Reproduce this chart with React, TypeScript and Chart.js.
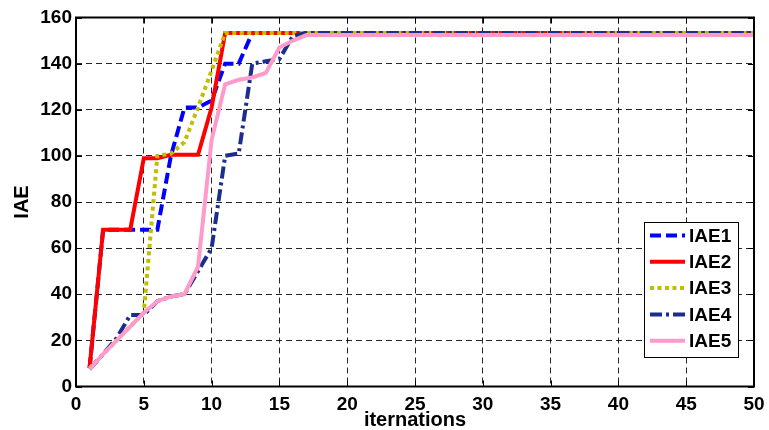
import { useEffect, useRef } from "react";
import { Chart, registerables } from "chart.js";

Chart.register(...registerables);

// Iteration index (x axis)
const iterations = [
  1, 2, 3, 4, 5, 6, 7, 8, 9, 10,
  11, 12, 13, 14, 15, 16, 17, 18, 19, 20,
  21, 22, 23, 24, 25, 26, 27, 28, 29, 30,
  31, 32, 33, 34, 35, 36, 37, 38, 39, 40,
  41, 42, 43, 44, 45, 46, 47, 48, 49, 50,
];

// IAE value per iteration for each run
const iae1 = [
  8, 68, 68, 68, 68, 68, 100, 121, 121, 124,
  140, 140, 153.3, 153.3, 153.3, 153.3, 153.3, 153.3, 153.3, 153.3,
  153.3, 153.3, 153.3, 153.3, 153.3, 153.3, 153.3, 153.3, 153.3, 153.3,
  153.3, 153.3, 153.3, 153.3, 153.3, 153.3, 153.3, 153.3, 153.3, 153.3,
  153.3, 153.3, 153.3, 153.3, 153.3, 153.3, 153.3, 153.3, 153.3, 153.3,
];
const iae2 = [
  8, 68, 68, 68, 99, 99, 100.5, 100.5, 100.5, 121,
  153.3, 153.3, 153.3, 153.3, 153.3, 153.3, 153.3, 153.3, 153.3, 153.3,
  153.3, 153.3, 153.3, 153.3, 153.3, 153.3, 153.3, 153.3, 153.3, 153.3,
  153.3, 153.3, 153.3, 153.3, 153.3, 153.3, 153.3, 153.3, 153.3, 153.3,
  153.3, 153.3, 153.3, 153.3, 153.3, 153.3, 153.3, 153.3, 153.3, 153.3,
];
const iae3 = [
  8, 14, 20, 26, 32, 100, 101, 106, 121, 137,
  153.3, 153.3, 153.3, 153.3, 153.3, 153.3, 153.3, 153.3, 153.3, 153.3,
  153.3, 153.3, 153.3, 153.3, 153.3, 153.3, 153.3, 153.3, 153.3, 153.3,
  153.3, 153.3, 153.3, 153.3, 153.3, 153.3, 153.3, 153.3, 153.3, 153.3,
  153.3, 153.3, 153.3, 153.3, 153.3, 153.3, 153.3, 153.3, 153.3, 153.3,
];
const iae4 = [
  7.5, 14, 21, 31, 31, 37, 39, 40, 50, 60,
  100, 101, 140, 141, 142, 152, 153.3, 153.3, 153.3, 153.3,
  153.3, 153.3, 153.3, 153.3, 153.3, 153.3, 153.3, 153.3, 153.3, 153.3,
  153.3, 153.3, 153.3, 153.3, 153.3, 153.3, 153.3, 153.3, 153.3, 153.3,
  153.3, 153.3, 153.3, 153.3, 153.3, 153.3, 153.3, 153.3, 153.3, 153.3,
];
const iae5 = [
  7.5, 14, 20, 26, 32, 37, 39, 40, 52, 107,
  131, 133, 134, 136, 147, 150, 152.4, 152.4, 152.4, 152.4,
  152.4, 152.4, 152.4, 152.4, 152.4, 152.4, 152.4, 152.4, 152.4, 152.4,
  152.4, 152.4, 152.4, 152.4, 152.4, 152.4, 152.4, 152.4, 152.4, 152.4,
  152.4, 152.4, 152.4, 152.4, 152.4, 152.4, 152.4, 152.4, 152.4, 152.4,
];

const seriesNames = ["IAE1", "IAE2", "IAE3", "IAE4", "IAE5"];
const seriesValues = [iae1, iae2, iae3, iae4, iae5];
const seriesColors = ["#0000FF", "#FF0000", "#BFBF00", "#1B2E8E", "#FF9BCB"];
const seriesDashes: number[][] = [[11, 5], [], [4, 3.5], [12, 4, 3, 4], []];

const xMin = 0;
const xMax = 50;
const xStep = 5;
const yMin = 0;
const yMax = 160;
const yStep = 20;

const FONT = "'Liberation Sans', Arial, Helvetica, sans-serif";
const LINE_W = 4;

// Box around the plot area with inward-pointing tick marks on all four sides
const framePlugin = {
  id: "frame",
  afterDatasetsDraw(chart: any) {
    const { ctx, chartArea } = chart;
    const { left, right, top, bottom } = chartArea;
    const tickLen = 6;
    ctx.save();
    ctx.strokeStyle = "#000";
    ctx.lineWidth = 1;
    ctx.setLineDash([]);
    const xs = chart.scales.x;
    const ys = chart.scales.y;
    ctx.beginPath();
    xs.ticks.forEach((t: any) => {
      const px = Math.round(xs.getPixelForValue(t.value)) + 0.5;
      ctx.moveTo(px, bottom);
      ctx.lineTo(px, bottom - tickLen);
      ctx.moveTo(px, top);
      ctx.lineTo(px, top + tickLen);
    });
    ys.ticks.forEach((t: any) => {
      const py = Math.round(ys.getPixelForValue(t.value)) + 0.5;
      ctx.moveTo(left, py);
      ctx.lineTo(left + tickLen, py);
      ctx.moveTo(right, py);
      ctx.lineTo(right - tickLen, py);
    });
    ctx.stroke();
    ctx.lineWidth = 2;
    ctx.strokeRect(left, top, right - left, bottom - top);
    ctx.restore();
  },
};

// Boxed legend in the lower-right corner of the plot
const legendPlugin = {
  id: "boxLegend",
  afterDraw(chart: any) {
    const { ctx, chartArea } = chart;
    const bw = 94;
    const bh = 135;
    const bx = chartArea.right - 16 - bw;
    const by = chartArea.bottom - 29.5 - bh;
    ctx.save();
    ctx.fillStyle = "#fff";
    ctx.fillRect(bx, by, bw, bh);
    ctx.strokeStyle = "#000";
    ctx.lineWidth = 1;
    ctx.setLineDash([]);
    ctx.strokeRect(bx + 0.5, by + 0.5, bw, bh);
    ctx.font = `bold 19px ${FONT}`;
    ctx.textBaseline = "middle";
    ctx.textAlign = "left";
    chart.data.datasets.forEach((ds: any, i: number) => {
      const cy = by + 13.5 + i * 26.3;
      ctx.beginPath();
      ctx.strokeStyle = ds.borderColor;
      ctx.lineWidth = LINE_W;
      ctx.lineCap = "butt";
      ctx.setLineDash(ds.borderDash || []);
      ctx.moveTo(bx + 6, cy);
      ctx.lineTo(bx + 41, cy);
      ctx.stroke();
      ctx.setLineDash([]);
      ctx.fillStyle = "#000";
      ctx.fillText(ds.label, bx + 45, cy + 1);
    });
    ctx.restore();
  },
};

export default function App() {
  const canvasRef = useRef<HTMLCanvasElement | null>(null);

  useEffect(() => {
    const canvas = canvasRef.current;
    if (!canvas) return;

    const datasets = seriesValues.map((vals, i) => ({
      label: seriesNames[i],
      data: vals.map((v, j) => ({ x: iterations[j], y: v })),
      borderColor: seriesColors[i],
      backgroundColor: seriesColors[i],
      borderWidth: LINE_W,
      borderDash: seriesDashes[i],
      borderCapStyle: "butt" as const,
      borderJoinStyle: "miter" as const,
      pointRadius: 0,
      fill: false,
      tension: 0,
      order: seriesValues.length - 1 - i,
    }));

    const tickFont = { family: FONT, size: 19, weight: "bold" as const };

    const chart = new Chart(canvas, {
      type: "line",
      data: { datasets },
      options: {
        responsive: false,
        animation: false,
        layout: { padding: { left: 0, right: 15, top: 17.5, bottom: 0 } },
        plugins: {
          legend: { display: false },
          tooltip: { enabled: false },
        },
        scales: {
          x: {
            type: "linear",
            min: xMin,
            max: xMax,
            ticks: {
              stepSize: xStep,
              padding: 7,
              color: "#000",
              font: tickFont,
              maxRotation: 0,
            },
            grid: { color: "rgba(0,0,0,0.85)", lineWidth: 1, drawTicks: false },
            border: { display: false, dash: [6, 4] },
            title: {
              display: true,
              text: "iternations",
              color: "#000",
              font: { family: FONT, size: 20, weight: "bold", lineHeight: 1 },
              padding: 0,
            },
            afterFit: (s: any) => {
              s.height = 43.5;
              s.paddingLeft = 0;
              s.paddingRight = 0;
            },
          },
          y: {
            type: "linear",
            min: yMin,
            max: yMax,
            ticks: {
              stepSize: yStep,
              padding: 4,
              color: "#000",
              font: tickFont,
            },
            grid: { color: "rgba(0,0,0,0.85)", lineWidth: 1, drawTicks: false },
            border: { display: false, dash: [6, 4] },
            title: {
              display: true,
              text: "IAE",
              color: "#000",
              font: { family: FONT, size: 20, weight: "bold", lineHeight: 1.2 },
              padding: { top: 10, bottom: 0 },
            },
            afterFit: (s: any) => {
              s.width = 76;
              s.paddingTop = 0;
              s.paddingBottom = 0;
            },
          },
        },
      } as any,
      plugins: [framePlugin, legendPlugin],
    });

    return () => chart.destroy();
  }, []);

  return (
    <div style={{ position: "fixed", left: 0, top: 0, width: 769, height: 430, background: "#fff" }}>
      <canvas ref={canvasRef} width={769} height={430} style={{ display: "block" }} />
    </div>
  );
}
